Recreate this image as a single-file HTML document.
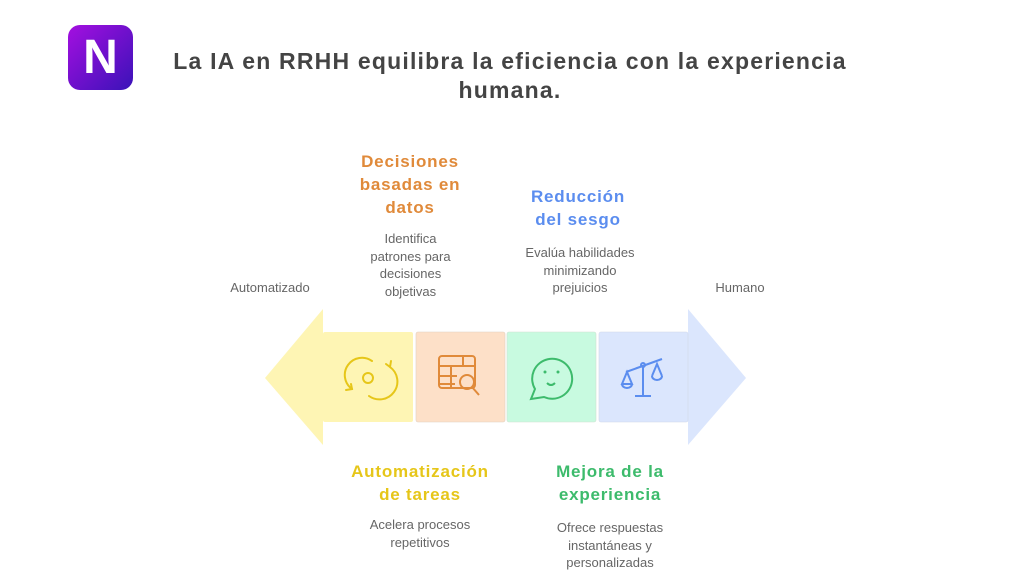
<!DOCTYPE html>
<html><head><meta charset="utf-8"><style>
body{margin:0;width:1024px;height:576px;background:#fff;position:relative;overflow:hidden;font-family:"Liberation Sans",sans-serif}
.t{position:absolute;text-align:center;white-space:nowrap}
.h{font-weight:bold;font-size:17px;line-height:23px;letter-spacing:0.8px}
.d{font-size:13px;line-height:17.5px;color:#666}
</style></head><body>
<div style="position:absolute;left:68px;top:25px;width:65px;height:65px;border-radius:12px;background:linear-gradient(135deg,#a40fe0,#3a12b8)"></div>
<div class="t" style="left:68px;top:25px;width:65px;line-height:65px;color:#fff;font-size:48px;font-weight:bold">N</div>
<div class="t" style="left:100px;top:47px;width:820px;font-size:23px;line-height:29px;color:#444;font-weight:bold;letter-spacing:1.2px">La IA en RRHH equilibra la eficiencia con la experiencia<br>humana.</div>

<div class="t h" style="left:330px;top:150px;width:160px;color:#e08a3a">Decisiones<br>basadas en<br>datos</div>
<div class="t d" style="left:343px;top:230px;width:135px">Identifica<br>patrones para<br>decisiones<br>objetivas</div>
<div class="t h" style="left:498px;top:185px;width:160px;color:#5b8def">Reducción<br>del sesgo</div>
<div class="t d" style="left:500px;top:244px;width:160px">Evalúa habilidades<br>minimizando<br>prejuicios</div>
<div class="t d" style="left:210px;top:279px;width:120px">Automatizado</div>
<div class="t d" style="left:690px;top:279px;width:100px">Humano</div>
<div class="t h" style="left:330px;top:460px;width:180px;color:#e6c619">Automatización<br>de tareas</div>
<div class="t d" style="left:340px;top:516px;width:160px">Acelera procesos<br>repetitivos</div>
<div class="t h" style="left:525px;top:460px;width:170px;color:#3dbb6c">Mejora de la<br>experiencia</div>
<div class="t d" style="left:525px;top:519px;width:170px">Ofrece respuestas<br>instantáneas y<br>personalizadas</div>

<svg style="position:absolute;left:0;top:0" width="1024" height="576">
<polygon points="265,378 323,309 323,445" fill="#fef5b4"/>
<polygon points="746,378 688,309 688,445" fill="#dbe6fd"/>
<rect x="323" y="332" width="90" height="90" rx="2" fill="#fef5b4"/>
<rect x="416" y="332" width="89" height="90" rx="2" fill="#fde0c8" stroke="#e0d0c0" stroke-width="0.6"/>
<rect x="507" y="332" width="89" height="90" rx="2" fill="#c8fae0" stroke="#d0e0d0" stroke-width="0.6"/>
<rect x="599" y="332" width="89" height="90" rx="2" fill="#dbe6fd" stroke="#d0d8e8" stroke-width="0.6"/>
<g fill="none" stroke="#e6c619" stroke-width="2" stroke-linecap="round">
<path d="M352,389 A17,17 0 0 1 372,361"/><path d="M390,367 A17,17 0 0 1 369,396"/>
<path d="M346,390 l6,-1 l-1,-5"/><path d="M386,364 l4,3 l1,-6"/>
<circle cx="368" cy="378" r="5"/>
</g>
<g fill="none" stroke="#e08a3a" stroke-width="2">
<rect x="439" y="356" width="36" height="32" rx="3"/><path d="M439,366h36M439,376h18M439,384h16M451,366v22M463,356v10"/>
<circle cx="467" cy="382" r="7"/><path d="M472,387l7,8"/>
</g>
<g fill="none" stroke="#3dbb6c" stroke-width="2">
<path d="M531,399 l4,-10 A20,20 0 1 1 544,397 Z"/>
<path d="M547,383 q4,4 8,0"/>
</g>
<circle cx="545" cy="372" r="1.5" fill="#3dbb6c"/><circle cx="558" cy="372" r="1.5" fill="#3dbb6c"/>
<g fill="none" stroke="#5b8def" stroke-width="2">
<path d="M626,372 L662,359 M643,366 v30 M635,396 h16"/>
<path d="M622,384 l5,-12 l5,12 Z M652,376 l5,-12 l5,12"/>
<path d="M622,384 a5,4 0 0 0 10,0 M652,376 a5,4 0 0 0 10,0"/>
<circle cx="643" cy="365" r="2"/>
</g>
</svg>
</body></html>
